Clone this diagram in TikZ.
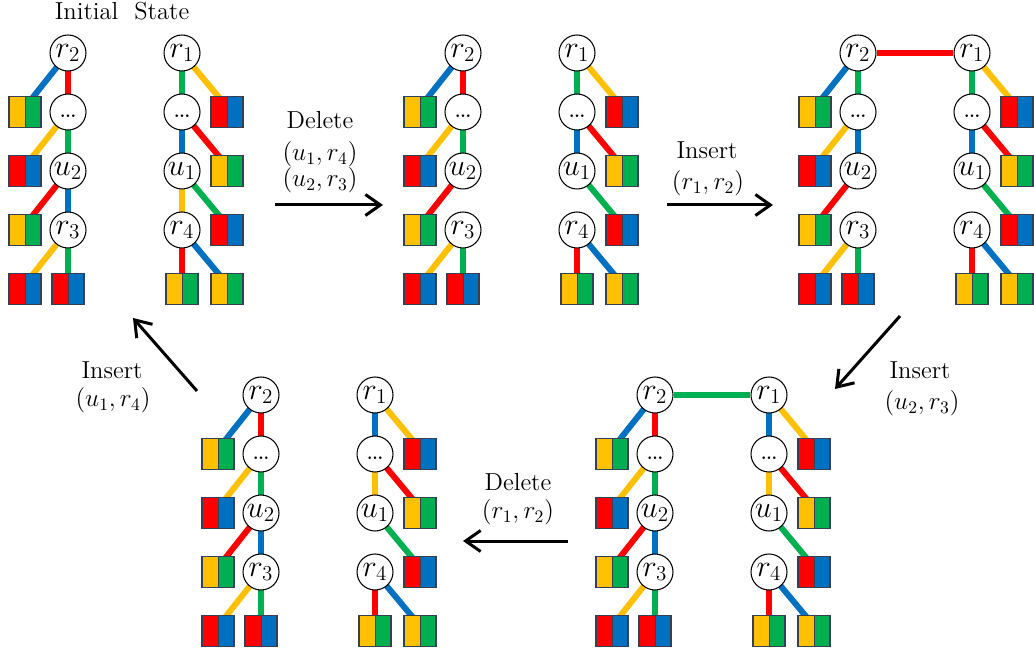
\documentclass[tikz,border=0pt]{standalone}
\usepackage{amssymb}
\usepackage{tikz}
\usetikzlibrary{arrows.meta}
\usetikzlibrary{backgrounds}

\definecolor{cr}{RGB}{255,0,0}
\definecolor{cb}{RGB}{0,112,192}
\definecolor{cg}{RGB}{0,176,80}
\definecolor{cy}{RGB}{255,192,0}
\definecolor{boxline}{RGB}{52,64,84}

\tikzset{
vert/.style={circle,draw=black,fill=white,line width=0.6pt,minimum size=0.72cm,
 inner sep=0pt,font=\fontsize{18}{20}\selectfont},
leaf/.style 2 args={rectangle,draw=boxline,line width=0.6pt,minimum width=0.64cm,
 minimum height=0.62cm,inner sep=0pt,
 path picture={\fill[#1] (path picture bounding box.south west) rectangle (path picture bounding box.north);
 \fill[#2] (path picture bounding box.south) rectangle (path picture bounding box.north east);
 \draw[boxline,line width=0.4pt] (path picture bounding box.south) -- (path picture bounding box.north);}},
link/.style={line width=0.12cm},
flow/.style={line width=0.06cm,-{Straight Barb[length=0.3cm,width=0.42cm]}},
lbl/.style={font=\fontsize{14}{16}\selectfont}
}

% #1 name, #2 #3 position of r_2, #4-#6 spine of left tree, #7-#9 spine of right tree
\newcommand{\statepanel}[9]{%
\begin{scope}[shift={(#2,#3)}]
\node[vert] (#1-r2) at (0,0) {$r_2$};
\node[vert] (#1-d2) at (0,59) {\raisebox{-0.8ex}{\dots}};
\node[vert] (#1-u2) at (0,118) {$u_2$};
\node[vert] (#1-r3) at (0,177) {$r_3$};
\node[leaf={cy}{cg}] (#1-b1) at (-43,59) {};
\node[leaf={cr}{cb}] (#1-b2) at (-43,118) {};
\node[leaf={cy}{cg}] (#1-b3) at (-43,177) {};
\node[leaf={cr}{cb}] (#1-b4) at (-43,236) {};
\node[leaf={cr}{cb}] (#1-b5) at (0,236) {};
\node[vert] (#1-r1) at (114,0) {$r_1$};
\node[vert] (#1-d1) at (114,59) {\raisebox{-0.8ex}{\dots}};
\node[vert] (#1-u1) at (114,118) {$u_1$};
\node[vert] (#1-r4) at (114,177) {$r_4$};
\node[leaf={cr}{cb}] (#1-c1) at (159,59) {};
\node[leaf={cy}{cg}] (#1-c2) at (159,118) {};
\node[leaf={cr}{cb}] (#1-c3) at (159,177) {};
\node[leaf={cy}{cg}] (#1-c4) at (114,236) {};
\node[leaf={cy}{cg}] (#1-c5) at (159,236) {};
\begin{pgfonlayer}{background}
\draw[link,cb] (#1-r2.center) -- ([xshift=0.1cm,yshift=-0.1cm]#1-b1.north);
\draw[link,#4] (#1-r2.center) -- (#1-d2.center);
\draw[link,cy] (#1-d2.center) -- ([xshift=0.1cm,yshift=-0.1cm]#1-b2.north);
\draw[link,#5] (#1-d2.center) -- (#1-u2.center);
\draw[link,cr] (#1-u2.center) -- ([xshift=0.1cm,yshift=-0.1cm]#1-b3.north);
\draw[link,#6] (#1-u2.center) -- (#1-r3.center);
\draw[link,cy] (#1-r3.center) -- ([xshift=0.1cm,yshift=-0.1cm]#1-b4.north);
\draw[link,cg] (#1-r3.center) -- (#1-b5.center);
\draw[link,cy] (#1-r1.center) -- ([xshift=-0.1cm,yshift=-0.1cm]#1-c1.north);
\draw[link,#7] (#1-r1.center) -- (#1-d1.center);
\draw[link,cr] (#1-d1.center) -- ([xshift=-0.1cm,yshift=-0.1cm]#1-c2.north);
\draw[link,#8] (#1-d1.center) -- (#1-u1.center);
\draw[link,cg] (#1-u1.center) -- ([xshift=-0.1cm,yshift=-0.1cm]#1-c3.north);
\draw[link,#9] (#1-u1.center) -- (#1-r4.center);
\draw[link,cr] (#1-r4.center) -- (#1-c4.center);
\draw[link,cb] (#1-r4.center) -- ([xshift=-0.1cm,yshift=-0.1cm]#1-c5.north);
\end{pgfonlayer}
\end{scope}}

\begin{document}
\begin{tikzpicture}[x=0.02cm,y=-0.02cm]
\useasboundingbox (0,0) rectangle (1034,651);

\statepanel{init}{68}{53}{cr}{cg}{cb}{cg}{cb}{cy}
\statepanel{cut}{463}{53}{cr}{cg}{draw=none}{cg}{cb}{draw=none}
\statepanel{join}{858}{53}{cg}{cb}{draw=none}{cg}{cb}{draw=none}
\statepanel{swap}{655}{395}{cr}{cg}{cb}{cb}{cy}{draw=none}
\statepanel{split}{261}{395}{cr}{cg}{cb}{cb}{cy}{draw=none}
\begin{pgfonlayer}{background}
\draw[link,cr] (join-r2) -- (join-r1);
\draw[link,cg] (swap-r2) -- (swap-r1);
\end{pgfonlayer}

\node[lbl] (title) at (122,11) {Initial\ \ State};

% moves between the states
\coordinate (m1-s) at (275,205);
\coordinate (m1-e) at (383,205);
\coordinate (m2-s) at (667,205);
\coordinate (m2-e) at (773,205);
\coordinate (m3-s) at (900,316);
\coordinate (m3-e) at (835,389);
\coordinate (m4-s) at (568,541);
\coordinate (m4-e) at (463,541);
\coordinate (m5-s) at (197,391);
\coordinate (m5-e) at (133,318);
\foreach \M in {1,...,5}
{\draw[flow] (m\M-s) -- (m\M-e);}

\node[lbl] (m1-a) at (320,120) {Delete};
\node[lbl] (m1-b) at (320,154) {$(u_1,r_4)$};
\node[lbl] (m1-c) at (320,180) {$(u_2,r_3)$};
\node[lbl] (m2-a) at (707,150) {Insert};
\node[lbl] (m2-b) at (708,183) {$(r_1,r_2)$};
\node[lbl] (m3-a) at (920,370) {Insert};
\node[lbl] (m3-b) at (922,403) {$(u_2,r_3)$};
\node[lbl] (m4-a) at (518,482) {Delete};
\node[lbl] (m4-b) at (518,512) {$(r_1,r_2)$};
\node[lbl] (m5-a) at (112,370) {Insert};
\node[lbl] (m5-b) at (113,400) {$(u_1,r_4)$};
\end{tikzpicture}
\end{document}
